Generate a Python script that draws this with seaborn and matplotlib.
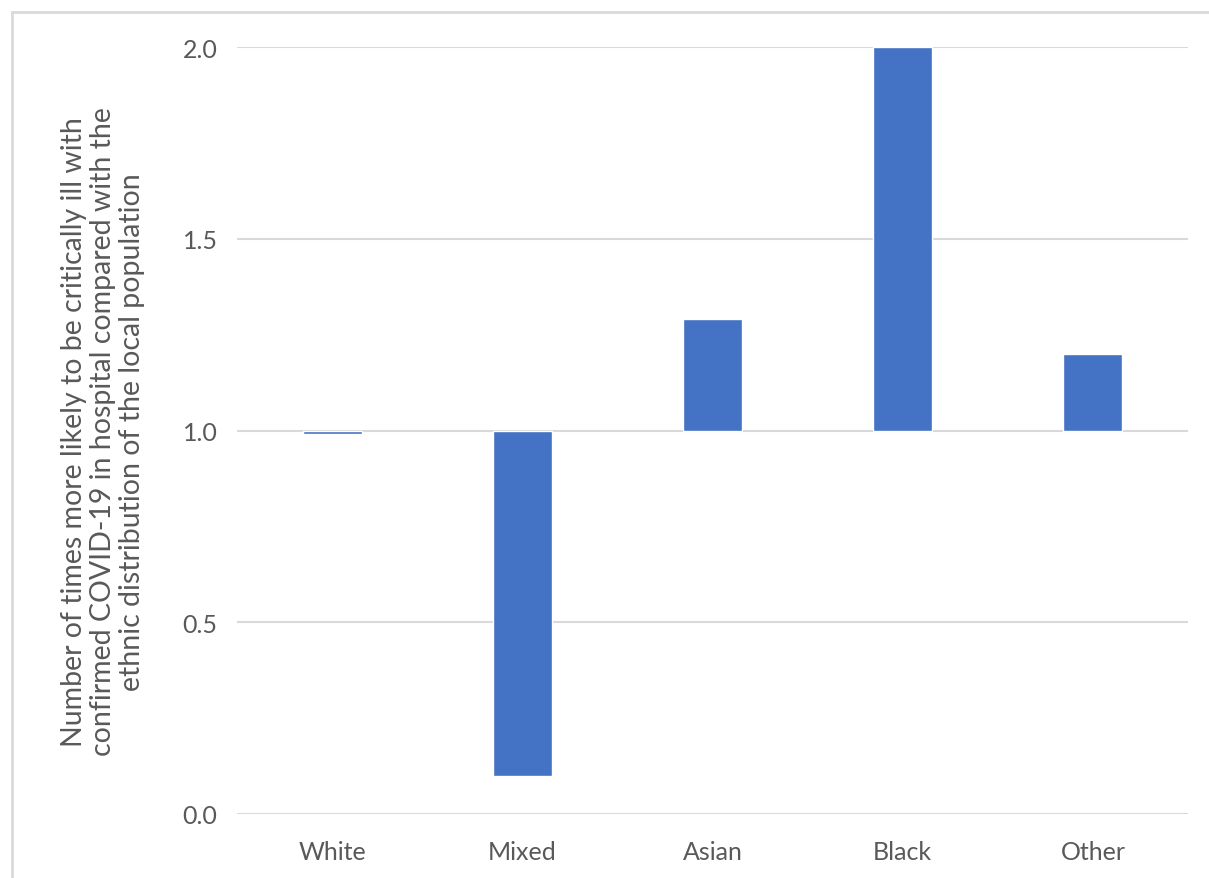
import matplotlib
matplotlib.use("Agg")
import matplotlib.pyplot as plt
import seaborn as sns
import pandas as pd
from matplotlib.patches import Rectangle

# data (ratio vs. local population, axis crosses at 1.0)
groups = ["White", "Mixed", "Asian", "Black", "Other"]
ratios = [0.99, 0.10, 1.29, 2.00, 1.20]
baseline = 1.0
y_ticks = [0.0, 0.5, 1.0, 1.5, 2.0]

df = pd.DataFrame({"group": groups, "ratio": ratios})
df["delta"] = df["ratio"] - baseline

sns.set_theme(style="white")
plt.rcParams["font.family"] = ["Lato", "DejaVu Sans"]

fig = plt.figure(figsize=(12.09, 8.79), dpi=100)
ax = fig.add_axes([237 / 1209, 1 - 815 / 879, (1188 - 237) / 1209, (815 - 48) / 879])

sns.barplot(data=df, x="group", y="delta", color="#4472C4", width=0.31,
            bottom=baseline, saturation=1, ax=ax, zorder=3)

ax.set_ylim(0, 2)
ax.set_xlim(-0.5, len(groups) - 0.5)
ax.set_yticks(y_ticks)
ax.set_yticklabels([f"{v:.1f}" for v in y_ticks])
for v in y_ticks:
    ax.axhline(v, color="#d9d9d9", lw=1.5, zorder=1)
for s in ax.spines.values():
    s.set_visible(False)
ax.tick_params(axis="both", length=0, labelsize=18, colors="#595959")
ax.tick_params(axis="y", pad=14)
ax.tick_params(axis="x", pad=19)
ax.set_xlabel("")
ax.set_ylabel("")

fig.text(103 / 1209, 1 - 432 / 879,
         "Number of times more likely to be critically ill with\n"
         "confirmed COVID-19 in hospital compared with the\n"
         "ethnic distribution of the local population",
         rotation=90, ha="center", va="center", fontsize=20.5,
         color="#595959", linespacing=1.12)

# outer frame (cropped on right/bottom)
fig.patches.append(Rectangle((12 / 1209, -0.1), 1.2, 1 - 13 / 879 + 0.1,
                             transform=fig.transFigure, fill=False,
                             edgecolor="#d9d9d9", lw=2))

fig.savefig("out.png", dpi=100)
